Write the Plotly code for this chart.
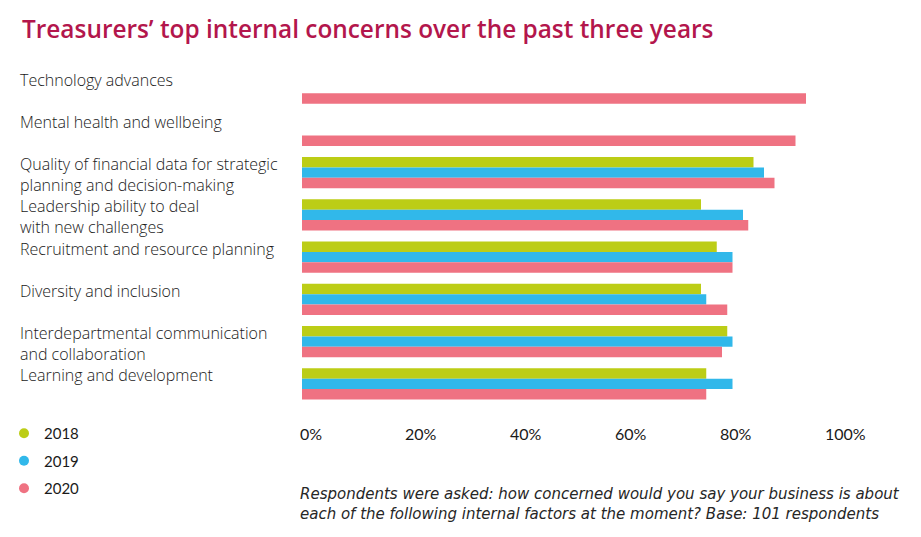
import plotly.graph_objects as go

categories = [
    "Technology advances",
    "Mental health and wellbeing",
    "Quality of financial data for strategic<br>planning and decision-making",
    "Leadership ability to deal<br>with new challenges",
    "Recruitment and resource planning",
    "Diversity and inclusion",
    "Interdepartmental communication<br>and collaboration",
    "Learning and development",
]
years = ["2018", "2019", "2020"]
values_2018 = [None, None, 86, 76, 79, 76, 81, 77]
values_2019 = [None, None, 88, 84, 82, 77, 82, 82]
values_2020 = [96, 94, 90, 85, 82, 81, 80, 77]
tick_values = [0, 20, 40, 60, 80, 100]
tick_labels = ["0%", "20%", "40%", "60%", "80%", "100%"]

title_text = "Treasurers’ top internal concerns over the past three years"
note_text = ("Respondents were asked: how concerned would you say your business is about<br>"
             "each of the following internal factors at the moment? Base: 101 respondents")

colors = {"2018": "#BCCD16", "2019": "#31B8EA", "2020": "#EF7282"}
series = {"2018": values_2018, "2019": values_2019, "2020": values_2020}

W, H = 921, 537
ML, MR, MT, MB = 302, 94, 67, 132
PW, PH = W - ML - MR, H - MT - MB
TEXT = "#1a1a1a"


def px(x):
    return (x - ML) / PW


def py(y):
    return (H - MB - y) / PH


fig = go.Figure()
for yr in years:
    fig.add_trace(go.Bar(
        y=categories, x=series[yr], orientation="h", name=yr,
        marker=dict(color=colors[yr], line=dict(width=0)),
        showlegend=False, hoverinfo="x+name",
    ))
for yr in years:
    fig.add_trace(go.Scatter(
        x=[None], y=[None], mode="markers", name=yr, legendgroup=yr,
        marker=dict(color=colors[yr], size=10, symbol="circle"),
        showlegend=True,
    ))

for cat in categories:
    fig.add_annotation(
        x=px(19), xref="paper", xanchor="left", align="left",
        y=cat, yref="y", yanchor="top", yshift=20.4, borderpad=0,
        text=cat, showarrow=False,
        font=dict(family="Open Sans", size=16, color=TEXT, weight=300),
    )

fig.add_annotation(
    x=px(298), xref="paper", xanchor="left", align="left",
    y=py(483), yref="paper", yanchor="top",
    text=note_text, showarrow=False,
    font=dict(family="DejaVu Sans", size=15, color="#262626", style="italic", weight=200),
)

fig.update_layout(
    width=W, height=H,
    margin=dict(l=ML, r=MR, t=MT, b=MB, pad=0, autoexpand=False),
    paper_bgcolor="white", plot_bgcolor="white",
    barmode="group", bargap=0.265, bargroupgap=0,
    title=dict(
        text=title_text, xref="container", x=22 / W, xanchor="left",
        yref="container", y=1 - 29 / H, yanchor="middle",
        font=dict(family="Open Sans", size=24.4, color="#B3164C", weight=600),
    ),
    xaxis=dict(
        range=[0, 100], tickvals=tick_values, ticktext=tick_labels,
        showgrid=False, zeroline=False, showline=False, ticks="",
        ticklabelposition="outside right", ticklabelstandoff=18,
        ticklabelshift=-2,
        tickfont=dict(family="Lato", size=16, color=TEXT),
        fixedrange=True,
    ),
    yaxis=dict(
        autorange="reversed", showticklabels=False, showgrid=False,
        zeroline=False, showline=False, ticks="", fixedrange=True,
    ),
    legend=dict(
        xref="container", yref="container",
        x=4 / W, xanchor="left", y=1 - 417 / H, yanchor="top",
        orientation="v", tracegroupgap=5,
        font=dict(family="Lato", size=15, color=TEXT),
        bgcolor="rgba(0,0,0,0)",
    ),
    showlegend=True,
)

fig.write_html("out.html", post_script="document.body.style.margin='0';",
               config={"displayModeBar": False})
